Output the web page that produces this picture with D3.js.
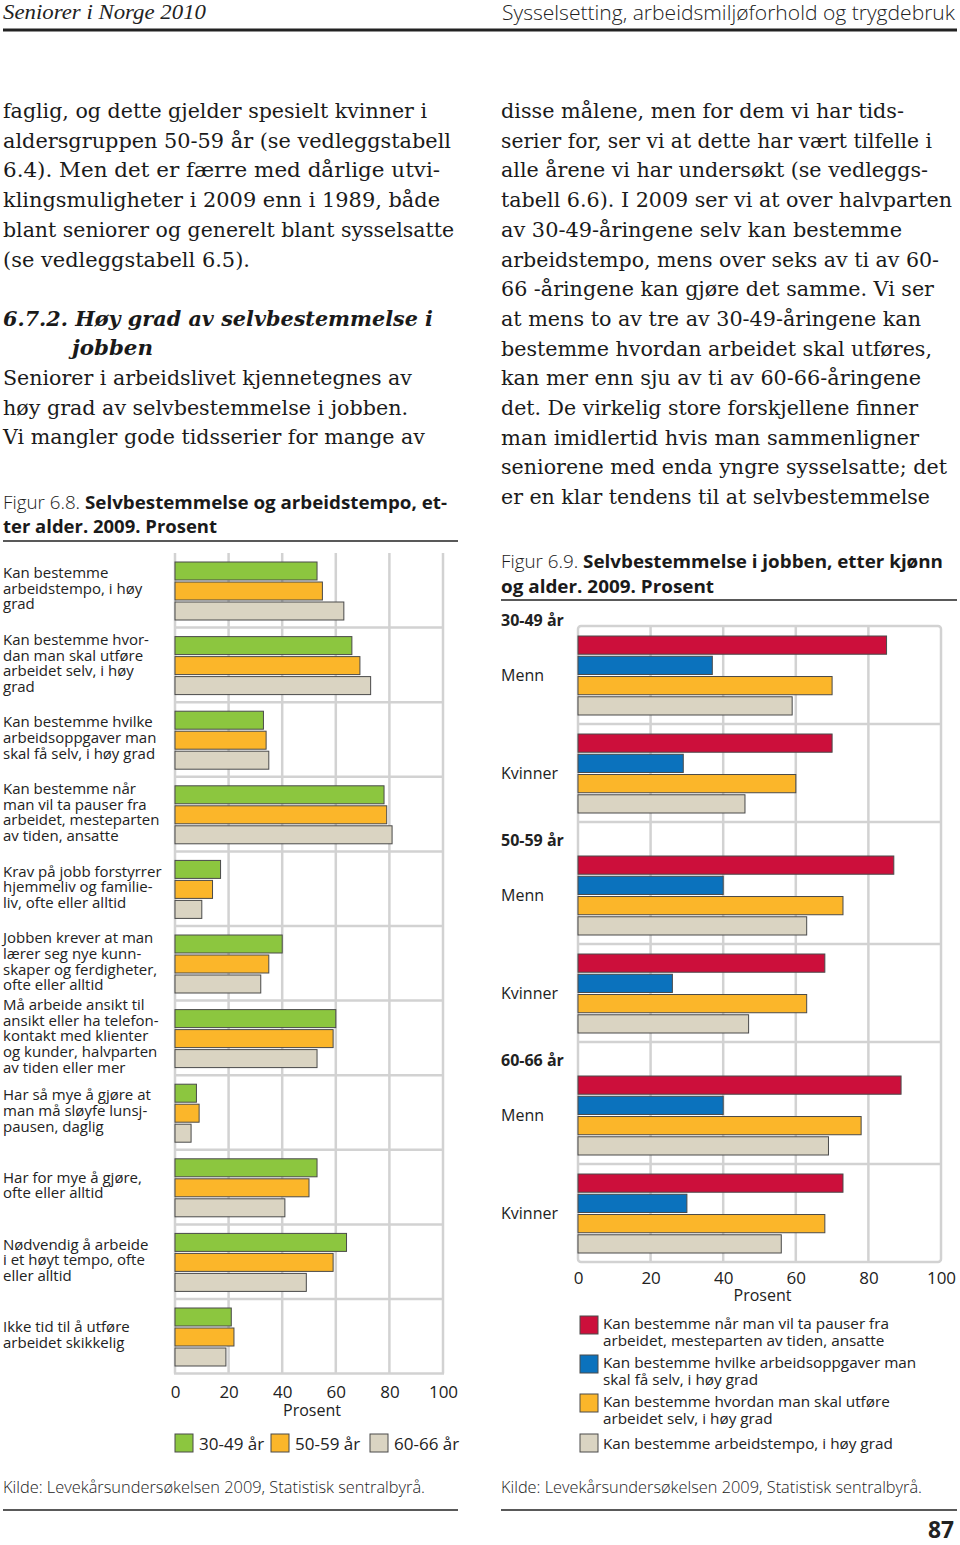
<!DOCTYPE html>
<html><head><meta charset="utf-8">
<script src="https://cdn.jsdelivr.net/npm/d3@7"></script>
<style>body{margin:0;background:#fff}svg{display:block}</style>
</head><body>
<svg id="c" width="960" height="1545"></svg>
<script>
// ---------- DATA ----------
// Figure 6.8 (left)
const leftCategories = [
  "Kan bestemme|arbeidstempo, i høy|grad",
  "Kan bestemme hvor-|dan man skal utføre|arbeidet selv, i høy|grad",
  "Kan bestemme hvilke|arbeidsoppgaver man|skal få selv, i høy grad",
  "Kan bestemme når|man vil ta pauser fra|arbeidet, mesteparten|av tiden, ansatte",
  "Krav på jobb forstyrrer|hjemmeliv og familie-|liv, ofte eller alltid",
  "Jobben krever at man|lærer seg nye kunn-|skaper og ferdigheter,|ofte eller alltid",
  "Må arbeide ansikt til|ansikt eller ha telefon-|kontakt med klienter|og kunder, halvparten|av tiden eller mer",
  "Har så mye å gjøre at|man må sløyfe lunsj-|pausen, daglig",
  "Har for mye å gjøre,|ofte eller alltid",
  "Nødvendig å arbeide|i et høyt tempo, ofte|eller alltid",
  "Ikke tid til å utføre|arbeidet skikkelig"
];
const leftSeries = ["30-49 år", "50-59 år", "60-66 år"];
const age3049 = [53, 66, 33, 78, 17, 40, 60, 8, 53, 64, 21];
const age5059 = [55, 69, 34, 79, 14, 35, 59, 9, 50, 59, 22];
const age6066 = [63, 73, 35, 81, 10, 32, 53, 6, 41, 49, 19];
const tickValues = [0, 20, 40, 60, 80, 100];

// Figure 6.9 (right)
const ageGroups = ["30-49 år", "50-59 år", "60-66 år"];
const sexes = ["Menn", "Kvinner"];
const rightSeries = [
  "Kan bestemme når man vil ta pauser fra|arbeidet, mesteparten av tiden, ansatte",
  "Kan bestemme hvilke arbeidsoppgaver man|skal få selv, i høy grad",
  "Kan bestemme hvordan man skal utføre|arbeidet selv, i høy grad",
  "Kan bestemme arbeidstempo, i høy grad"
];
// order: 30-49 Menn, 30-49 Kvinner, 50-59 Menn, 50-59 Kvinner, 60-66 Menn, 60-66 Kvinner
const pauser   = [85, 70, 87, 68, 89, 73];
const oppgaver = [37, 29, 40, 26, 40, 30];
const hvordan  = [70, 60, 73, 63, 78, 68];
const tempo    = [59, 46, 63, 47, 69, 56];

// page text
const bodyLeft = [
  "faglig, og dette gjelder spesielt kvinner i",
  "aldersgruppen 50-59 år (se vedleggstabell",
  "6.4). Men det er færre med dårlige utvi-",
  "klingsmuligheter i 2009 enn i 1989, både",
  "blant seniorer og generelt blant sysselsatte",
  "(se vedleggstabell 6.5)."
];
const bodyLeft2 = [
  "Seniorer i arbeidslivet kjennetegnes av",
  "høy grad av selvbestemmelse i jobben.",
  "Vi mangler gode tidsserier for mange av"
];
const bodyRight = [
  "disse målene, men for dem vi har tids-",
  "serier for, ser vi at dette har vært tilfelle i",
  "alle årene vi har undersøkt (se vedleggs-",
  "tabell 6.6). I 2009 ser vi at over halvparten",
  "av 30-49-åringene selv kan bestemme",
  "arbeidstempo, mens over seks av ti av 60-",
  "66 -åringene kan gjøre det samme. Vi ser",
  "at mens to av tre av 30-49-åringene kan",
  "bestemme hvordan arbeidet skal utføres,",
  "kan mer enn sju av ti av 60-66-åringene",
  "det. De virkelig store forskjellene finner",
  "man imidlertid hvis man sammenligner",
  "seniorene med enda yngre sysselsatte; det",
  "er en klar tendens til at selvbestemmelse"
];

// ---------- LAYOUT / STYLE ----------
const SANS = "'Open Sans','Noto Sans',sans-serif";
const SERIF = "'DejaVu Serif','Liberation Serif',serif";
const GRID = "#d2d2d2";
const STROKE = "#4a4a4a";
const leftColors = ["#8cc63f", "#fbb62a", "#dad4c2"];
const rightColors = ["#cc0f3b", "#0b72bd", "#fbb62a", "#dad4c2"];
const leftEnds = [427, 451, 440, 440, 454, 250];
const left2Ends = [412, 408, 425];
const rightEnds = [904, 932, 928, 952, 902, 939, 934, 921, 932, 921, 918, 919, 947, 930];

const svg = d3.select("#c");

function txt(x, y, s, opts = {}) {
  const t = svg.append("text").attr("x", x).attr("y", y)
    .attr("font-family", opts.family || SANS)
    .attr("font-size", opts.size || 16)
    .attr("fill", opts.fill || "#1a1a1a");
  if (opts.weight) t.attr("font-weight", opts.weight);
  if (opts.style) t.attr("font-style", opts.style);
  if (opts.anchor) t.attr("text-anchor", opts.anchor);
  if (opts.len) t.attr("textLength", opts.len).attr("lengthAdjust", opts.adj || "spacingAndGlyphs");
  t.text(s);
  return t;
}

// ---------- HEADER ----------
txt(3, 19, "Seniorer i Norge 2010", {family: "'Liberation Serif',serif", style: "italic", size: 21, len: 203, fill: "#222"});
txt(955, 20, "Sysselsetting, arbeidsmiljøforhold og trygdebruk", {size: 19.5, anchor: "end", len: 453, fill: "#222", weight: 300});
svg.append("line").attr("x1", 3).attr("x2", 957).attr("y1", 30).attr("y2", 30).attr("stroke", "#222").attr("stroke-width", 3);

// ---------- BODY TEXT ----------
const BS = 20.5;
bodyLeft.forEach((s, i) => txt(3, 118 + i * 29.7, s, {family: SERIF, size: BS, len: leftEnds[i] - 3}));
txt(3, 326, "6.7.2. Høy grad av selvbestemmelse i", {family: SERIF, size: BS, weight: "bold", style: "italic", len: 430});
txt(72, 355, "jobben", {family: SERIF, size: BS, weight: "bold", style: "italic", len: 81});
bodyLeft2.forEach((s, i) => txt(3, 385 + i * 29.7, s, {family: SERIF, size: BS, len: left2Ends[i] - 3}));
bodyRight.forEach((s, i) => txt(501, 118 + i * 29.7, s, {family: SERIF, size: BS, len: rightEnds[i] - 501}));

// ---------- FIGURE TITLES ----------
function title(x, y, reg, bold, len) {
  const t = svg.append("text").attr("x", x).attr("y", y).attr("font-family", SANS).attr("font-size", 18).attr("fill", "#1a1a1a");
  if (len) t.attr("textLength", len).attr("lengthAdjust", "spacingAndGlyphs");
  if (reg) t.append("tspan").attr("font-weight", 300).text(reg);
  t.append("tspan").attr("font-weight", "bold").text(bold);
}
title(3, 509, "Figur 6.8. ", "Selvbestemmelse og arbeidstempo, et-", 444);
title(3, 533, null, "ter alder. 2009. Prosent", 214);
svg.append("line").attr("x1", 3).attr("x2", 458).attr("y1", 541).attr("y2", 541).attr("stroke", "#222").attr("stroke-width", 1.5);
title(501, 568, "Figur 6.9. ", "Selvbestemmelse i jobben, etter kjønn", 442);
title(501, 593, null, "og alder. 2009. Prosent", 213);
svg.append("line").attr("x1", 501).attr("x2", 957).attr("y1", 600).attr("y2", 600).attr("stroke", "#222").attr("stroke-width", 1.5);

// ---------- LEFT CHART ----------
const xL = d3.scaleLinear().domain([0, 100]).range([175, 443]);
const yL = d3.scaleBand().domain(d3.range(leftCategories.length)).range([553, 553 + 74.6 * leftCategories.length]);
const sL = d3.scaleBand().domain(d3.range(3)).range([9, 67]).paddingInner(0.1);
const leftData = [age3049, age5059, age6066];
const gLeft = svg.append("g");
gLeft.selectAll("line.v").data(tickValues).join("line")
  .attr("x1", d => xL(d)).attr("x2", d => xL(d))
  .attr("y1", yL.range()[0]).attr("y2", yL.range()[1])
  .attr("stroke", GRID).attr("stroke-width", 2.5);
gLeft.selectAll("line.h").data(d3.range(leftCategories.length)).join("line")
  .attr("x1", xL(0) - 1).attr("x2", xL(100) + 1)
  .attr("y1", d => yL(d) + yL.bandwidth()).attr("y2", d => yL(d) + yL.bandwidth())
  .attr("stroke", GRID).attr("stroke-width", 2.5);
leftData.forEach((arr, si) => {
  gLeft.append("g").selectAll("rect").data(arr).join("rect")
    .attr("x", xL(0)).attr("y", (d, i) => yL(i) + sL(si))
    .attr("width", d => xL(d) - xL(0)).attr("height", sL.bandwidth())
    .attr("fill", leftColors[si]).attr("stroke", STROKE).attr("stroke-width", 1);
});
leftCategories.forEach((c, i) => {
  const lines = c.split("|");
  const cy = yL(i) + yL.bandwidth() / 2 - 2;
  const y0 = cy - (lines.length - 1) * 15.6 / 2;
  lines.forEach((l, j) => txt(3, y0 + j * 15.6 + 5.5, l, {size: 15, fill: "#222"}));
});
const axL = svg.append("g").attr("transform", `translate(0,${yL.range()[1]})`)
  .call(d3.axisBottom(xL).tickValues(tickValues).tickSize(0).tickPadding(12));
axL.select(".domain").remove();
axL.selectAll("text").attr("font-family", SANS).attr("font-size", 17).attr("fill", "#222");
txt(xL(50) + 3, 1416, "Prosent", {size: 16, anchor: "middle", fill: "#222"});
const legX = [175, 271, 370];
leftSeries.forEach((s, i) => {
  svg.append("rect").attr("x", legX[i]).attr("y", 1434).attr("width", 18).attr("height", 18)
    .attr("fill", leftColors[i]).attr("stroke", STROKE).attr("stroke-width", 1);
  txt(legX[i] + 24, 1450, s, {size: 17, fill: "#222"});
});

// ---------- RIGHT CHART ----------
const xR = d3.scaleLinear().domain([0, 100]).range([578, 941]);
const rowH = 98, headH = 24, boxTop = 626;
const sectionStart = s => boxTop - headH + s * (2 * rowH + headH);
const rowTop = (s, k) => sectionStart(s) + headH + k * rowH;
const sR = d3.scaleBand().domain(d3.range(4)).range([10, 89]).paddingInner(0.1);
const boxBottom = rowTop(2, 1) + rowH;
const gR = svg.append("g");
gR.selectAll("line.v").data(tickValues.slice(1, -1)).join("line")
  .attr("x1", d => xR(d)).attr("x2", d => xR(d)).attr("y1", boxTop).attr("y2", boxBottom)
  .attr("stroke", GRID).attr("stroke-width", 2.5);
const sepYs = [];
ageGroups.forEach((g, s) => sexes.forEach((x, k) => { if (!(s === 2 && k === 1)) sepYs.push(rowTop(s, k) + rowH); }));
gR.selectAll("line.h").data(sepYs).join("line")
  .attr("x1", xR(0)).attr("x2", xR(100)).attr("y1", d => d).attr("y2", d => d)
  .attr("stroke", GRID).attr("stroke-width", 2.5);
gR.append("rect").attr("x", xR(0)).attr("y", boxTop).attr("width", xR(100) - xR(0)).attr("height", boxBottom - boxTop)
  .attr("rx", 3).attr("fill", "none").attr("stroke", GRID).attr("stroke-width", 2.5);
const rightData = [pauser, oppgaver, hvordan, tempo];
rightData.forEach((arr, si) => {
  gR.append("g").selectAll("rect").data(arr).join("rect")
    .attr("x", xR(0))
    .attr("y", (d, i) => rowTop(Math.floor(i / 2), i % 2) + sR(si))
    .attr("width", d => xR(d) - xR(0)).attr("height", sR.bandwidth())
    .attr("fill", rightColors[si]).attr("stroke", STROKE).attr("stroke-width", 1);
});
ageGroups.forEach((g, s) => {
  txt(501, sectionStart(s) + 18 + 6, g, {size: 16, weight: "bold", fill: "#222"});
  sexes.forEach((x, k) => txt(501, rowTop(s, k) + rowH / 2 + 5.5, x, {size: 16, fill: "#222"}));
});
const axR = svg.append("g").attr("transform", `translate(0,${boxBottom})`)
  .call(d3.axisBottom(xR).tickValues(tickValues).tickSize(0).tickPadding(10));
axR.select(".domain").remove();
axR.selectAll("text").attr("font-family", SANS).attr("font-size", 17).attr("fill", "#222");
txt(xR(50) + 3, 1301, "Prosent", {size: 16, anchor: "middle", fill: "#222"});
const legY = [1316, 1355, 1394, 1434];
rightSeries.forEach((s, i) => {
  svg.append("rect").attr("x", 580).attr("y", legY[i]).attr("width", 18).attr("height", 18)
    .attr("fill", rightColors[i]).attr("stroke", STROKE).attr("stroke-width", 1);
  const lines = s.split("|");
  const first = lines.length === 1 ? legY[i] + 14.5 : legY[i] + 12.5;
  lines.forEach((l, j) => txt(603, first + j * 17.5, l, {size: 15.3, fill: "#222"}));
});

// ---------- SOURCES ----------
txt(3, 1493, "Kilde: Levekårsundersøkelsen 2009, Statistisk sentralbyrå.", {size: 17, len: 422, weight: 300, fill: "#222"});
txt(501, 1493, "Kilde: Levekårsundersøkelsen 2009, Statistisk sentralbyrå.", {size: 17, len: 421, weight: 300, fill: "#222"});
svg.append("line").attr("x1", 3).attr("x2", 458).attr("y1", 1510).attr("y2", 1510).attr("stroke", "#222").attr("stroke-width", 1.5);
svg.append("line").attr("x1", 501).attr("x2", 957).attr("y1", 1510).attr("y2", 1510).attr("stroke", "#222").attr("stroke-width", 1.5);
txt(954, 1538, "87", {size: 23, weight: "bold", anchor: "end", len: 26, fill: "#222"});
</script>
</body></html>
